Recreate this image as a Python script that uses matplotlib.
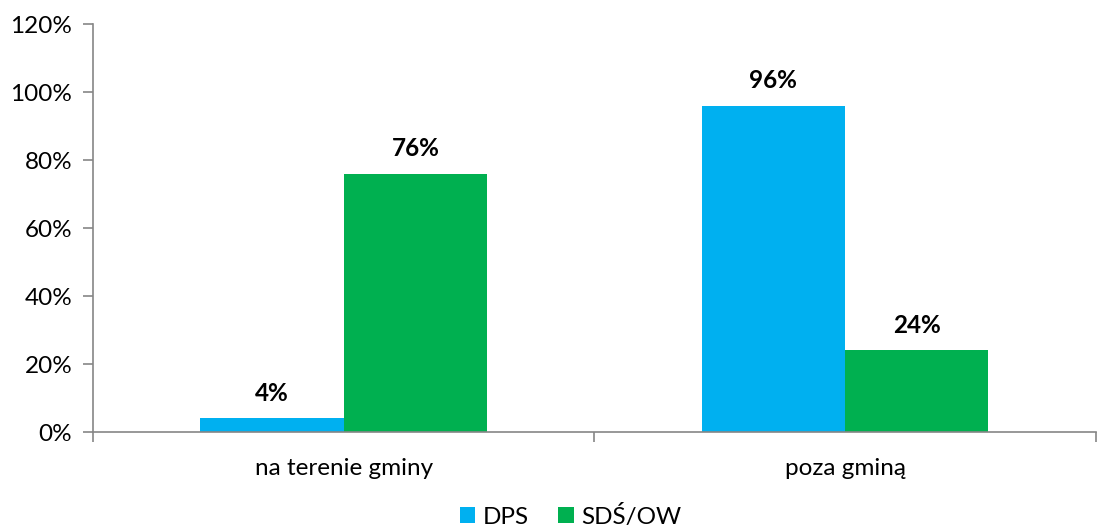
import matplotlib.pyplot as plt
import numpy as np

categories = ["na terenie gminy", "poza gminą"]
dps = [4, 96]
sds_ow = [76, 24]
series_names = ["DPS", "SDŚ/OW"]
y_ticks = [0, 20, 40, 60, 80, 100, 120]

plt.rcParams['font.family'] = ['Lato', 'DejaVu Sans']
fs = 17.5

fig = plt.figure(figsize=(10.97, 5.31), dpi=100)
ax = fig.add_axes([0.0848, 0.1864, 0.914, 0.7684])

x = np.arange(len(categories))
w = 0.286
b1 = ax.bar(x - w / 2, dps, w, color="#00B0F0", label=series_names[0])
b2 = ax.bar(x + w / 2, sds_ow, w, color="#00B050", label=series_names[1])

for bars in (b1, b2):
    for r in bars:
        ax.annotate(f"{r.get_height():.0f}%",
                    (r.get_x() + r.get_width() / 2, r.get_height()),
                    xytext=(0, 10), textcoords="offset points",
                    ha="center", va="bottom", fontsize=fs, fontweight="bold")

ax.set_xlim(-0.5, 1.5)
ax.set_ylim(0, 120)
ax.set_yticks(y_ticks)
ax.set_yticklabels([f"{v}%" for v in y_ticks])
ax.set_xticks(x)
ax.set_xticklabels(categories)
ax.set_xticks([-0.5, 0.5, 1.5], minor=True)
ax.tick_params(axis="x", which="major", length=0, pad=19, labelsize=fs)
ax.tick_params(axis="x", which="minor", length=7, direction="out", color="#868686", width=1.2)
ax.tick_params(axis="y", length=7, color="#868686", width=1.2, pad=8, labelsize=fs)

for s in ("top", "right"):
    ax.spines[s].set_visible(False)
for s in ("left", "bottom"):
    ax.spines[s].set_color("#868686")
    ax.spines[s].set_linewidth(1.2)

fig.legend(loc="lower center", bbox_to_anchor=(0.52, -0.035), ncol=2, frameon=False,
           fontsize=fs, handlelength=0.65, handleheight=0.65, handletextpad=0.3,
           columnspacing=1.2)

fig.savefig("out.png", dpi=100)
